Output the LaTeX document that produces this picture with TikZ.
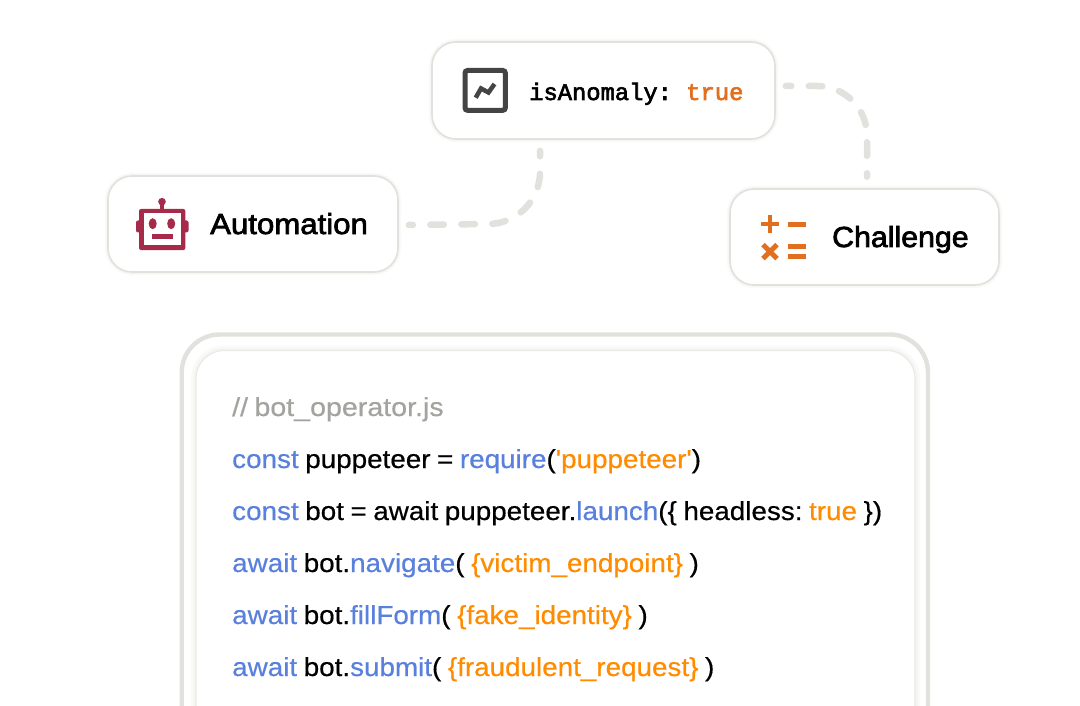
\documentclass[tikz,border=0pt]{standalone}
\usepackage{fontspec}
\usetikzlibrary{calc}
\setmainfont{Liberation Sans}
\frenchspacing
\newfontfamily\codef[FakeStretch=1.07,FakeBold=0.5,WordSpace=0.85]{Liberation Sans}
\newfontfamily\commentf[FakeStretch=1.1,FakeBold=0.5,WordSpace=0.8]{Liberation Sans}
\newfontfamily\autof[FakeBold=2.4,FakeStretch=1.075]{Liberation Sans}
\newfontfamily\chalf[FakeBold=2.4,FakeStretch=1.045]{Liberation Sans}
\newfontfamily\monof[FakeBold=2.6]{Liberation Mono}
\definecolor{edgegray}{HTML}{E1E2DD}
\definecolor{softgray}{HTML}{F5F5F3}
\definecolor{softer}{HTML}{FAFAF9}
\definecolor{kwblue}{HTML}{5A80DE}
\definecolor{strorange}{HTML}{FF8C00}
\definecolor{commentgray}{HTML}{A3A39F}
\definecolor{trueorange}{HTML}{E0701F}
\definecolor{robotred}{HTML}{A62A49}
\definecolor{iconink}{HTML}{444444}
\tikzset{
  x=1pt,y=-1pt,
  cardbox/.style={draw=edgegray,line width=1.6pt,fill=white,rounded corners=24pt,inner sep=0pt,
    preaction={draw=softer,line width=6pt,yshift=-1pt},
    preaction={draw=softgray,line width=3.5pt,yshift=-0.5pt}},
  conn/.style={draw=edgegray,line width=6.5pt,line cap=round,dash pattern=on 13.5pt off 17.5pt,dash phase=8pt},
  codeline/.style={anchor=base west,inner sep=0pt,font=\codef\fontsize{26}{30}\selectfont},
  cardlabel/.style={anchor=base west,inner sep=0pt},
  innerpath/.style={rounded corners=28pt},
}
\newcommand{\kw}[1]{\textcolor{kwblue}{#1}}
\newcommand{\st}[1]{\textcolor{strorange}{#1}}
\begin{document}
\begin{tikzpicture}
\useasboundingbox (0,0) rectangle (1080,706);
\fill[white] (0,0) rectangle (1080,706);
% code panel
\draw[edgegray,line width=4.4pt,rounded corners=38pt] (181.7,706) -- (181.7,334.5) -- (928,334.5) -- (928,706);
\draw[softer,line width=10pt,innerpath] (196,706) -- (196,350.5) -- (915,350.5) -- (915,706);
\draw[softgray,line width=5pt,innerpath] (196,706) -- (196,350.5) -- (915,350.5) -- (915,706);
\draw[edgegray!70,line width=1.2pt,fill=white,innerpath] (196,706) -- (196,350.5) -- (915,350.5) -- (915,706);
% cards
\node[cardbox,minimum width=343pt,minimum height=97pt] (anomaly) at (603.5,90.5) {};
\node[cardbox,minimum width=290pt,minimum height=96pt] (automation) at (253,224) {};
\node[cardbox,minimum width=269pt,minimum height=96pt] (challenge) at (864.5,237) {};
% connectors
\coordinate (a1) at ($(automation.east)+(10,1)$);
\coordinate (a2) at ($(anomaly.south)+(-63.5,11)$);
\coordinate (c1) at ($(anomaly.east)+(10,-4.5)$);
\coordinate (c2) at ($(challenge.north)+(2.5,-11.5)$);
\draw[conn] (a2) -- (540,172) arc[start angle=0,end angle=90,radius=52] -- (a1);
\draw[conn] (c1) -- (817,86) arc[start angle=-90,end angle=0,radius=50] -- (c2);
% labels
\node[cardlabel,font=\autof\fontsize{29}{34}\selectfont] (autotext) at (210,234) {Automation};
\node[cardlabel,font=\chalf\fontsize{29}{34}\selectfont] (chaltext) at (832,247) {Challenge};
\node[anchor=base west,inner sep=0pt,font=\monof\fontsize{23.8}{28}\selectfont] (anomtext) at (529,100) {isAnomaly: \textcolor{trueorange}{true}};
% code
\node[codeline,font=\commentf\fontsize{26}{30}\selectfont,text=commentgray] (l0) at (232,416) {// bot\_operator.js};
\node[codeline] (l1) at (232,468) {\kw{const} puppeteer = \kw{require}(\st{'puppeteer'})};
\node[codeline] (l2) at (232,520) {\kw{const} bot = await puppeteer.\kw{launch}(\{ headless: \st{true} \})};
\node[codeline] (l3) at (232,572) {\kw{await} bot.\kw{navigate}( \st{\{victim\_endpoint\}} )};
\node[codeline] (l4) at (232,624) {\kw{await} bot.\kw{fillForm}( \st{\{fake\_identity\}} )};
\node[codeline] (l5) at (232,676) {\kw{await} bot.\kw{submit}( \st{\{fraudulent\_request\}} )};
% anomaly icon
\draw[iconink,line width=5pt,rounded corners=2.5pt] (465,70.5) rectangle (505.3,110.3);
\draw[iconink,line width=4.5pt] (475.7,97.7) -- (481,88.5) -- (488.5,92.5) -- (494.5,84);
% robot icon
\fill[robotred,rounded corners=2pt] (136,220.5) rectangle (188.5,232.5);
\fill[robotred,rounded corners=2pt] (139,209) rectangle (185.3,250);
\fill[white] (143.5,213.5) rectangle (180.8,245);
\fill[robotred] (160.3,202) rectangle (163.7,210);
\fill[robotred] (162,201.7) circle (3.8);
\fill[robotred] (152.7,223.7) ellipse (4 and 5.5);
\fill[robotred] (171.2,223.7) ellipse (4 and 5.5);
\fill[robotred] (151.7,234.3) rectangle (172.7,239.3);
% challenge icon
\fill[trueorange] (761,221.7) rectangle (779,226.5);
\fill[trueorange] (767.6,215) rectangle (772.4,233.3);
\fill[trueorange] (787.8,221.7) rectangle (806,226.7);
\draw[trueorange,line width=5pt] (763,244.7) -- (777,258.7);
\draw[trueorange,line width=5pt] (777,244.7) -- (763,258.7);
\fill[trueorange] (787.8,244.3) rectangle (806,249.3);
\fill[trueorange] (787.8,253.5) rectangle (806,258.5);
\end{tikzpicture}
\end{document}
